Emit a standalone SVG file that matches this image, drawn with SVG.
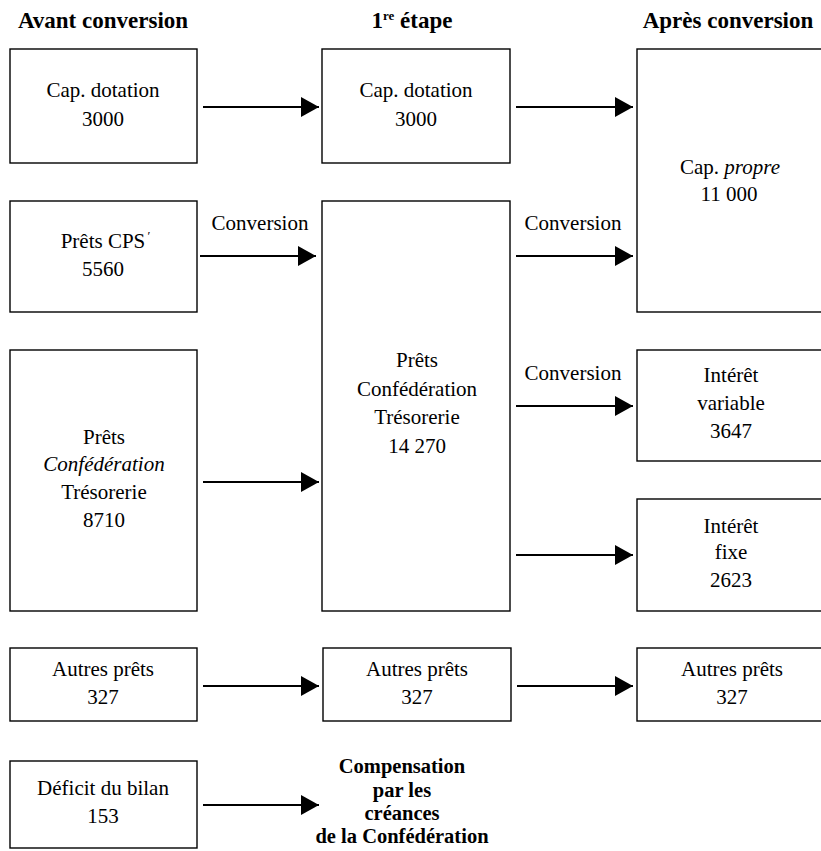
<svg xmlns="http://www.w3.org/2000/svg" width="821" height="851" viewBox="0 0 821 851">
<style>
  text { font-family: "Liberation Serif", "Times New Roman", serif; fill: #000; text-anchor: middle; }
  .h { font-size: 23px; font-weight: bold; }
  .t { font-size: 21px; }
  .b { font-size: 20.5px; font-weight: bold; }
  .i { font-style: italic; }
  rect.box { fill: #fff; stroke: #000; stroke-width: 1.4; }
  line.arr { stroke: #000; stroke-width: 2; marker-end: url(#ah); }
</style>
<defs>
  <marker id="ah" viewBox="0 0 18 20" refX="18" refY="10" markerWidth="18" markerHeight="20" markerUnits="userSpaceOnUse" orient="auto">
    <path d="M0,0 L18,10 L0,20 z" fill="#000"/>
  </marker>
</defs>
<rect width="821" height="851" fill="#fff"/>

<g id="headings">
  <text class="h" x="103" y="28">Avant conversion</text>
  <text class="h" x="412" y="28">1<tspan font-size="13" dy="-8">re</tspan><tspan dy="8"> étape</tspan></text>
  <text class="h" x="728" y="28">Après conversion</text>
</g>

<g id="n_cap_dotation_1">
  <rect class="box" x="10" y="49" width="187" height="114"/>
  <text class="t" x="103" y="97">Cap. dotation</text>
  <text class="t" x="103" y="126">3000</text>
</g>
<g id="n_prets_cps">
  <rect class="box" x="10" y="201" width="187" height="111"/>
  <text class="t" x="103" y="248">Prêts CPS</text>
  <text class="t" x="149" y="240" style="font-size:13px">ʹ</text>
  <text class="t" x="103" y="276">5560</text>
</g>
<g id="n_prets_conf_1">
  <rect class="box" x="10" y="350" width="187" height="261"/>
  <text class="t" x="104" y="444">Prêts</text>
  <text class="t i" x="104" y="471">Confédération</text>
  <text class="t" x="104" y="499">Trésorerie</text>
  <text class="t" x="104" y="527">8710</text>
</g>
<g id="n_autres_1">
  <rect class="box" x="10" y="648" width="187" height="73"/>
  <text class="t" x="103" y="676">Autres prêts</text>
  <text class="t" x="103" y="704">327</text>
</g>
<g id="n_deficit">
  <rect class="box" x="10" y="761" width="187" height="87"/>
  <text class="t" x="103" y="795">Déficit du bilan</text>
  <text class="t" x="103" y="823">153</text>
</g>

<g id="n_cap_dotation_2">
  <rect class="box" x="322" y="49" width="188" height="114"/>
  <text class="t" x="416" y="97">Cap. dotation</text>
  <text class="t" x="416" y="126">3000</text>
</g>
<g id="n_prets_conf_2">
  <rect class="box" x="322" y="201" width="188" height="410"/>
  <text class="t" x="417" y="367">Prêts</text>
  <text class="t" x="417" y="396">Confédération</text>
  <text class="t" x="417" y="424">Trésorerie</text>
  <text class="t" x="417" y="453">14 270</text>
</g>
<g id="n_autres_2">
  <rect class="box" x="323" y="648" width="188" height="73"/>
  <text class="t" x="417" y="676">Autres prêts</text>
  <text class="t" x="417" y="704">327</text>
</g>
<g id="n_compensation">
  <text class="b" x="402" y="773">Compensation</text>
  <text class="b" x="402" y="797">par les</text>
  <text class="b" x="402" y="820">créances</text>
  <text class="b" x="402" y="843">de la Confédération</text>
</g>

<g id="n_cap_propre">
  <rect class="box" x="637" y="49" width="190" height="263"/>
  <text class="t" x="730" y="174">Cap. <tspan class="i">propre</tspan></text>
  <text class="t" x="729" y="201">11 000</text>
</g>
<g id="n_interet_variable">
  <rect class="box" x="637" y="350" width="190" height="111"/>
  <text class="t" x="731" y="382">Intérêt</text>
  <text class="t" x="731" y="410">variable</text>
  <text class="t" x="731" y="438">3647</text>
</g>
<g id="n_interet_fixe">
  <rect class="box" x="637" y="499" width="190" height="112"/>
  <text class="t" x="731" y="533">Intérêt</text>
  <text class="t" x="731" y="559">fixe</text>
  <text class="t" x="731" y="587">2623</text>
</g>
<g id="n_autres_3">
  <rect class="box" x="637" y="648" width="190" height="73"/>
  <text class="t" x="732" y="676">Autres prêts</text>
  <text class="t" x="732" y="704">327</text>
</g>

<g id="connectors">
  <line class="arr" x1="203" y1="107" x2="319" y2="107"/>
  <line class="arr" x1="516" y1="107" x2="633" y2="107"/>
  <line class="arr" x1="200" y1="256" x2="316" y2="256"/>
  <text class="t" x="260" y="230">Conversion</text>
  <line class="arr" x1="516" y1="256" x2="633" y2="256"/>
  <text class="t" x="573" y="230">Conversion</text>
  <line class="arr" x1="203" y1="482" x2="319" y2="482"/>
  <line class="arr" x1="516" y1="406" x2="633" y2="406"/>
  <text class="t" x="573" y="380">Conversion</text>
  <line class="arr" x1="516" y1="555" x2="633" y2="555"/>
  <line class="arr" x1="203" y1="686" x2="319" y2="686"/>
  <line class="arr" x1="517" y1="686" x2="633" y2="686"/>
  <line class="arr" x1="203" y1="805" x2="319" y2="805"/>
</g>
</svg>
